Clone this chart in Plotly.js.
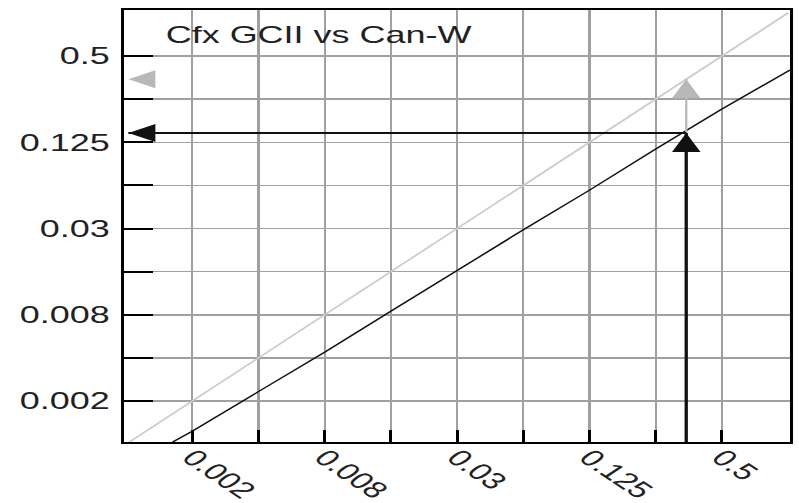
<!DOCTYPE html>
<html>
<head>
<meta charset="utf-8">
<script src="https://cdn.plot.ly/plotly-3.0.1.min.js"></script>
<style>
  html, body { margin: 0; padding: 0; background: #fff; overflow: hidden; }
  #chart { width: 533px; height: 503px; transform: scaleX(1.49906); transform-origin: 0 0; }
</style>
</head>
<body>
<div id="chart"></div>
<script>
// Doubling grid (every factor of 2) and labels on every other one
const gridVals = [0.001953125, 0.00390625, 0.0078125, 0.015625, 0.03125, 0.0625, 0.125, 0.25, 0.5];
const tickLabels = ['0.002', '', '0.008', '', '0.03', '', '0.125', '', '0.5'];

// Regression line Cfx GCII vs Can-W
const fitX = [0.00159, 0.00195, 0.0039, 0.0078, 0.0156, 0.03125, 0.0625, 0.125, 0.25, 0.5, 1.02];
const fitY = [0.00101, 0.00120, 0.00227, 0.00428, 0.00826, 0.0160, 0.0306, 0.0579, 0.112, 0.213, 0.40];

// Identity line
const idX = [0.001, 1];
const idY = [0.001, 1];

// Breakpoint readout
const micX = 0.344;        // x value of the vertical arrow
const predFit = 0.145;     // value read on the regression line
const predId = 0.344;      // value read on the identity line
const axisMin = 0.001;     // low end used for the arrows

const titleText = 'Cfx GCII vs Can-W';

const black = '#111';
const grayLine = '#cccccc';
const grayArrow = '#b8b8b8';

const traces = [
  { x: idX, y: idY, mode: 'lines', line: { color: grayLine, width: 1.5 }, hoverinfo: 'skip' },
  { x: fitX, y: fitY, mode: 'lines', line: { color: black, width: 1.3 }, hoverinfo: 'skip' },
  // gray vertical connector between the two lines
  { x: [micX, micX], y: [predFit, predId], mode: 'lines', line: { color: grayArrow, width: 1.5 }, hoverinfo: 'skip' },
  // black vertical arrow line
  { x: [micX, micX], y: [axisMin, predFit], mode: 'lines', line: { color: black, width: 2.2 }, hoverinfo: 'skip' },
  // black horizontal arrow line
  { x: [axisMin, micX], y: [predFit, predFit], mode: 'lines', line: { color: black, width: 2 }, hoverinfo: 'skip' },
  // arrow heads
  { x: [micX], y: [predFit], mode: 'markers', marker: { symbol: 'arrow-up', size: 19, color: black, line: { width: 0 } }, hoverinfo: 'skip' },
  { x: [axisMin], y: [predFit], mode: 'markers', marker: { symbol: 'arrow-left', size: 18, color: black, line: { width: 0 } }, hoverinfo: 'skip' },
  { x: [micX], y: [predId], mode: 'markers', marker: { symbol: 'arrow-up', size: 19, color: grayArrow, line: { width: 0 } }, hoverinfo: 'skip' },
  { x: [axisMin], y: [predId], mode: 'markers', marker: { symbol: 'arrow-left', size: 18, color: grayArrow, line: { width: 0 } }, hoverinfo: 'skip' }
];

const axisCommon = {
  type: 'log',
  tickmode: 'array',
  tickvals: gridVals,
  ticktext: tickLabels,
  showgrid: true,
  gridcolor: '#a0a0a0',
  gridwidth: 1.5,
  showline: true,
  linecolor: '#000',
  linewidth: 2,
  mirror: true,
  ticks: 'inside',
  tickcolor: '#000',
  tickwidth: 2,
  zeroline: false,
  tickfont: { family: 'Liberation Sans, Arial, sans-serif', size: 24, color: '#222' }
};

const layout = {
  width: 533,
  height: 503,
  margin: { l: 83, r: 6, t: 10, b: 61 },
  paper_bgcolor: '#fff',
  plot_bgcolor: '#fff',
  showlegend: false,
  title: {
    text: titleText,
    font: { family: 'Liberation Sans, Arial, sans-serif', size: 24, color: '#222' },
    xref: 'paper', yref: 'paper',
    x: 0.062, y: 0.942,
    xanchor: 'left', yanchor: 'middle'
  },
  xaxis: Object.assign({}, axisCommon, {
    range: [-3.018, 0.0084],
    ticklen: 12,
    tickangle: 45,
    ticklabelstandoff: -9,
    tickfont: { family: 'Liberation Sans, Arial, sans-serif', size: 23, color: '#222' }
  }),
  yaxis: Object.assign({}, axisCommon, {
    range: [-2.9955, 0.0201],
    ticklen: 19,
    ticklabelstandoff: 3
  })
};

Plotly.newPlot('chart', traces, layout, { staticPlot: true, displayModeBar: false });
</script>
</body>
</html>
